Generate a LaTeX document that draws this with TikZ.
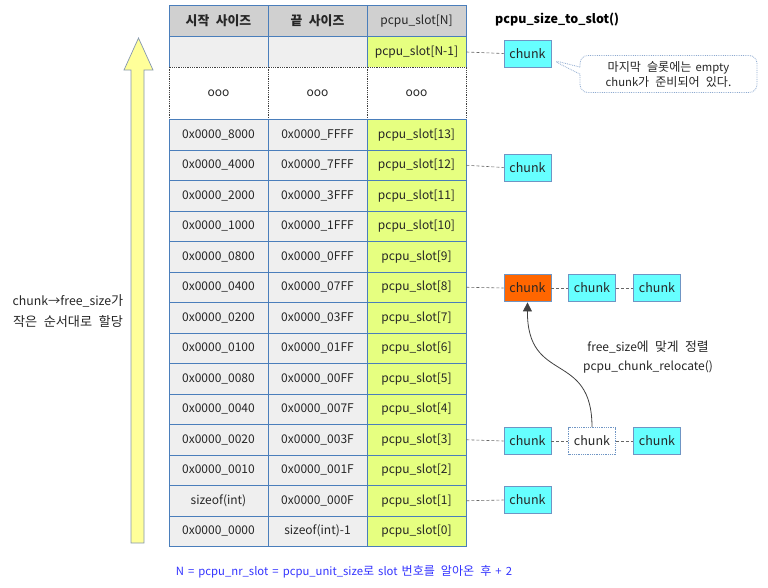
\documentclass[tikz,border=0pt]{standalone}
\usepackage{fontspec}
\setmainfont[WordSpace=1.6]{Noto Sans CJK KR}
\newfontfamily\krf[Scale=1.07,WordSpace=2.2]{Noto Sans CJK KR}
\newcommand{\K}[1]{{\krf #1}}
\usetikzlibrary{shapes.callouts,arrows.meta}
\definecolor{tborder}{HTML}{4A7EBB}
\definecolor{hdrgray}{HTML}{D0D0D0}
\definecolor{cellgray}{HTML}{EFEFEF}
\definecolor{slotyel}{HTML}{E6FF80}
\definecolor{chcyan}{HTML}{66FFFF}
\definecolor{chborder}{HTML}{6F95C4}
\definecolor{chorange}{HTML}{FF6600}
\definecolor{arrowyel}{HTML}{FFFF99}
\definecolor{arrowbd}{HTML}{8496B0}
\definecolor{noteblue}{HTML}{3333FF}
\definecolor{calloutbd}{HTML}{8EAAD0}
\begin{document}
\begin{tikzpicture}[x=1pt,y=-1pt,
  cell/.style={draw=tborder,line width=0.8pt,inner sep=0pt,minimum width=99pt,minimum height=30.5pt,font=\fontsize{12}{14}\selectfont,text=black!85},
  gcell/.style={cell,fill=cellgray},
  ycell/.style={cell,fill=slotyel},
  hcell/.style={cell,fill=hdrgray,minimum height=32pt},
  dcell/.style={cell,draw=black!75,densely dotted,fill=white,minimum height=52.5pt},
  chunkbox/.style={draw=chborder,line width=0.8pt,fill=chcyan,minimum width=47pt,minimum height=27pt,inner sep=0pt,font=\fontsize{12.5}{14}\selectfont,text=black!85},
  link/.style={draw=black!60,densely dashed,line width=0.6pt}
]
\useasboundingbox (0,0) rectangle (768,587);
% left arrow
\draw[fill=arrowyel,draw=arrowbd,line width=0.7pt] (131,543)--(131,70)--(124,70)--(138.5,38)--(153,70)--(144,70)--(144,543)--cycle;
\node[align=center,font=\fontsize{12.3}{21}\selectfont,text=black!85] (lefttxt) at (68,311) {chunk→free\_size\K{가}\\\K{작은 순서대로 할당}};
% header
\node[hcell,font=\fontsize{12}{14}\selectfont\bfseries] (h1) at (218.5,21) {\K{\bfseries 시작 사이즈}};
\node[hcell,font=\fontsize{12}{14}\selectfont\bfseries] (h2) at (317.5,21) {\K{\bfseries 끝 사이즈}};
\node[hcell] (h3) at (416.5,21) {pcpu\_slot[N]};
% row N-1
\node[gcell] (a1) at (218.5,52) {};
\node[gcell] (a2) at (317.5,52) {};
\node[ycell] (sN1) at (416.5,52) {pcpu\_slot[N-1]};
% dots row
\node[dcell] (d1) at (218.5,93.25) {ooo};
\node[dcell] (d2) at (317.5,93.25) {ooo};
\node[dcell] (d3) at (416.5,93.25) {ooo};
% slot rows
\foreach \i/\st/\en in {13/0x0000\_8000/0x0000\_FFFF,12/0x0000\_4000/0x0000\_7FFF,11/0x0000\_2000/0x0000\_3FFF,10/0x0000\_1000/0x0000\_1FFF,9/0x0000\_0800/0x0000\_0FFF,8/0x0000\_0400/0x0000\_07FF,7/0x0000\_0200/0x0000\_03FF,6/0x0000\_0100/0x0000\_01FF,5/0x0000\_0080/0x0000\_00FF,4/0x0000\_0040/0x0000\_007F,3/0x0000\_0020/0x0000\_003F,2/0x0000\_0010/0x0000\_001F,1/sizeof(int)/0x0000\_000F,0/0x0000\_0000/sizeof(int)-1}{
  \pgfmathsetmacro{\yc}{119.5+(13-\i)*30.5+15.25}
  \node[gcell] (b\i) at (218.5,\yc) {\st};
  \node[gcell] (e\i) at (317.5,\yc) {\en};
  \node[ycell] (s\i) at (416.5,\yc) {pcpu\_slot[\i]};
}
% title
\node[anchor=west,font=\fontsize{12.5}{14}\selectfont\bfseries,inner sep=0pt] (title) at (495,20) {pcpu\_size\_to\_slot()};
% chunks
\node[chunkbox] (cN) at (527.5,53.5) {chunk};
\node[chunkbox] (c12) at (527.5,167.5) {chunk};
\node[chunkbox,fill=chorange] (c8a) at (527.5,288) {chunk};
\node[chunkbox] (c8b) at (592,288) {chunk};
\node[chunkbox] (c8c) at (657,288) {chunk};
\node[chunkbox] (c3a) at (527.5,441) {chunk};
\node[chunkbox,fill=white,densely dotted] (c3b) at (592,441) {chunk};
\node[chunkbox] (c3c) at (657,441) {chunk};
\node[chunkbox] (c1) at (527.5,500) {chunk};
% links
\draw[link] (sN1.east) -- (cN.west);
\draw[link] (s12.east) -- (c12.west);
\draw[link] (s8.east) -- (c8a.west);
\draw[link] (c8a.east) -- (c8b.west);
\draw[link] (c8b.east) -- (c8c.west);
\draw[link] (s3.east) -- (c3a.west);
\draw[link] (c3a.east) -- (c3b.west);
\draw[link] (c3b.east) -- (c3c.west);
\draw[link] (s1.east) -- (c1.west);
% relocate arrow
\draw[black!75,line width=0.8pt,-{Triangle[length=9pt,width=9pt]},shorten >=0.5pt] (c3b.north) .. controls (592,350) and (527,385) .. (c8a.south);
\node[align=center,font=\fontsize{12}{19}\selectfont,text=black!85] (reloc) at (648,357.5) {free\_size\K{에 맞게 정렬}\\pcpu\_chunk\_relocate()};
% callout
\node[rectangle callout,rounded corners=8pt,draw=calloutbd,densely dotted,line width=0.8pt,fill=white,minimum width=177pt,minimum height=37pt,inner sep=2pt,align=center,font=\fontsize{11.3}{15}\selectfont,text=black!85,callout absolute pointer={(552,60)}] (note) at (668.5,74) {\K{마지막 슬롯에는} empty\\chunk\K{가 준비되어 있다.}};
% bottom note
\node[font=\fontsize{11.3}{14}\selectfont,text=noteblue] (bottom) at (344,572) {N = pcpu\_nr\_slot = pcpu\_unit\_size\K{로} slot \K{번호를 알아온 후} + 2};
\end{tikzpicture}
\end{document}
